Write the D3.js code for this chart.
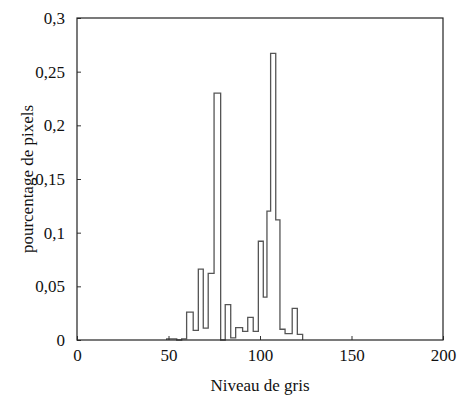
<!DOCTYPE html>
<html>
<head>
<meta charset="utf-8">
<script src="https://cdn.jsdelivr.net/npm/d3@7"></script>
<style>
  body { margin: 0; background: white; }
</style>
</head>
<body>
<div id="chart"></div>
<script>
// histogram bins: left edge, right edge (grey level) and share of pixels
const binStart = [49, 54.5, 57.2, 59.9, 63.5, 66.3, 69, 71.7, 74.9, 78.5, 81, 84, 86.7, 90.5, 93.3, 96.3, 99.1, 101.8, 103.8, 105.8, 108.6, 110.9, 113.7, 117.6, 120.4]
const binEnd   = [54.5, 57.2, 59.9, 63.5, 66.3, 69, 71.7, 74.9, 78.5, 81, 84, 86.7, 90.5, 93.3, 96.3, 99.1, 101.8, 103.8, 105.8, 108.6, 110.9, 113.7, 117.6, 120.4, 123.3]
const binValue = [0.001, 0, 0.001, 0.026, 0.009, 0.066, 0.011, 0.062, 0.23, 0, 0.033, 0.002, 0.0115, 0.008, 0.021, 0.008, 0.092, 0.04, 0.12, 0.267, 0.112, 0.010, 0.006, 0.0295, 0.0053]

const xTicks = [0, 50, 100, 150, 200]
const yTicks = [0, 0.05, 0.1, 0.15, 0.2, 0.25, 0.3]

const serif = '"Liberation Serif", "Times New Roman", serif'

const margin = { top: 18, left: 77, right: 16, bottom: 58 },
  width = 459 - margin.left - margin.right,
  height = 398 - margin.top - margin.bottom

const svg = d3.select('#chart')
  .append('svg')
  .attr('width', 459)
  .attr('height', 398)
  .style('font-family', serif)

const g = svg.append('g')
  .attr('transform', `translate(${margin.left},${margin.top})`)

const x = d3.scaleLinear().domain([0, 200]).range([0, width])
const y = d3.scaleLinear().domain([0, 0.3]).range([height, 0])

const fmt = d => String(d).replace('.', ',')

// step outline of the histogram
const pts = []
binStart.forEach((s, i) => {
  pts.push([s, i === 0 ? 0 : binValue[i - 1]])
  pts.push([s, binValue[i]])
  pts.push([binEnd[i], binValue[i]])
})
pts.push([binEnd[binEnd.length - 1], 0])

g.append('path')
  .datum(pts)
  .attr('d', d3.line().x(d => x(d[0])).y(d => y(d[1])))
  .attr('fill', 'none')
  .attr('stroke', '#555')
  .attr('stroke-width', 1.3)

// axes, ticks inward
const xAxis = g.append('g')
  .attr('transform', `translate(0,${height})`)
  .call(d3.axisBottom(x).tickValues(xTicks).tickSizeInner(-4).tickSizeOuter(0).tickPadding(9).tickFormat(fmt))
xAxis.select('.domain').remove()

const yAxis = g.append('g')
  .call(d3.axisLeft(y).tickValues(yTicks).tickSizeInner(-4).tickSizeOuter(0).tickPadding(12).tickFormat(fmt))
yAxis.select('.domain').remove()

g.selectAll('.tick text')
  .attr('font-family', serif)
  .attr('font-size', 17)
  .style('font-family', serif)
  .style('font-size', '17px')
  .attr('fill', '#111')

g.selectAll('.tick line').attr('stroke', '#333')

// frame
g.append('rect')
  .attr('width', width)
  .attr('height', height)
  .attr('fill', 'none')
  .attr('stroke', '#222')
  .attr('stroke-width', 1.2)

// axis titles
svg.append('text')
  .attr('x', margin.left + width / 2)
  .attr('y', 391)
  .attr('text-anchor', 'middle')
  .style('font-family', serif)
  .style('font-size', '17px')
  .attr('fill', '#111')
  .text('Niveau de gris')

svg.append('text')
  .attr('transform', `translate(33,${margin.top + height / 2}) rotate(-90)`)
  .attr('text-anchor', 'middle')
  .style('font-family', serif)
  .style('font-size', '17px')
  .attr('fill', '#111')
  .text('pourcentage de pixels')
</script>
</body>
</html>
